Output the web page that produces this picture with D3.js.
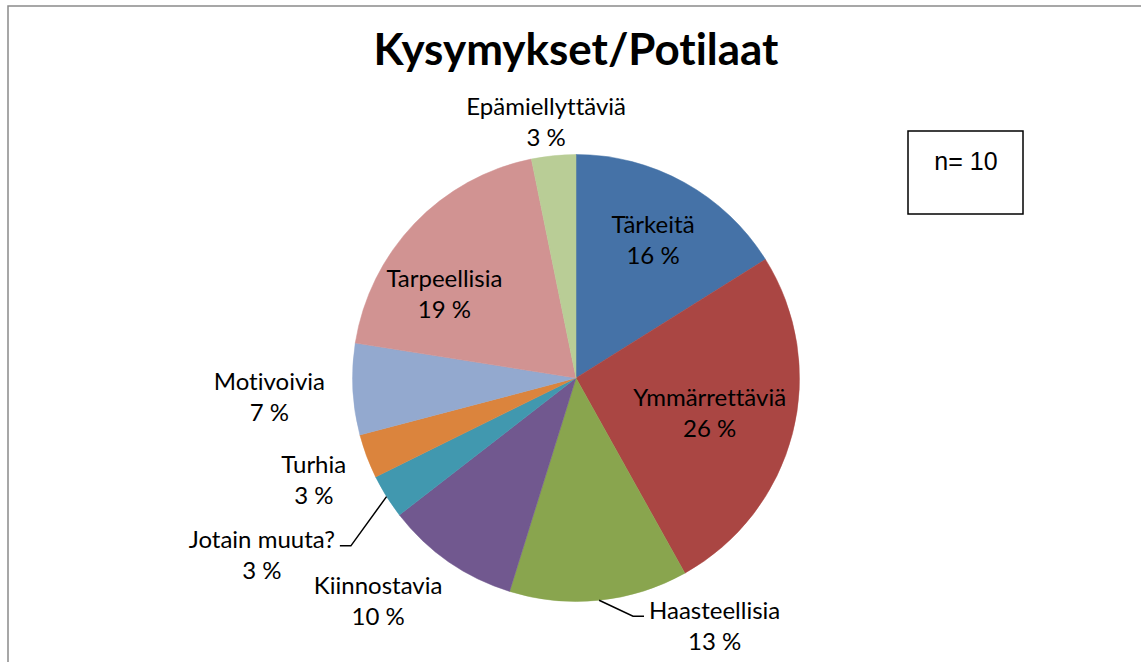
<!DOCTYPE html>
<html>
<head>
<meta charset="utf-8">
<script src="https://cdn.jsdelivr.net/npm/d3@7"></script>
<style>
  body { margin: 0; background: #fff; }
  svg { display: block; }
  text { font-variant-ligatures: none; }
</style>
</head>
<body>
<svg id="chart" width="1141" height="662"></svg>
<script>
// data: share of answers per category, in percent
const categories = ["Tärkeitä", "Ymmärrettäviä", "Haasteellisia", "Kiinnostavia",
                    "Jotain muuta?", "Turhia", "Motivoivia", "Tarpeellisia", "Epämiellyttäviä"];
const shares = [16.1, 25.8, 12.9, 9.7, 3.2, 3.2, 6.6, 19.3, 3.2];
const colors = ["#4572A7", "#AA4643", "#89A54E", "#71588F", "#4198AF",
                "#DB843D", "#93A9CF", "#D19392", "#B9CD96"];
const titleText = "Kysymykset/Potilaat";
const noteText = "n= 10";

// label placement (distance along the slice middle + small nudge), like Excel "best fit"
const labelPlace = {
    "Tärkeitä":        { r: 159, dx: 0,   dy: 0 },
    "Ymmärrettäviä":   { r: 138, dx: 0,   dy: 0 },
    "Haasteellisia":   { r: 248, dx: 113, dy: 0, leader: true },
    "Kiinnostavia":    { r: 270, dx: -44, dy: 0 },
    "Jotain muuta?":   { r: 340, dx: -26, dy: -4, leader: true },
    "Turhia":          { r: 280, dx: 0,   dy: 3 },
    "Motivoivia":      { r: 307, dx: 0,   dy: 3 },
    "Tarpeellisia":    { r: 160, dx: -16, dy: 26 },
    "Epämiellyttäviä": { r: 258, dx: -4,  dy: 0 }
};

const svg = d3.select("#chart");
const cx = 576, cy = 378, radius = 223.5;
const labelFont = "Lato, 'Open Sans', sans-serif";
const lineGap = 31;

// chart area border (only left/top visible in the crop)
svg.append("rect")
   .attr("x", 8).attr("y", 6)
   .attr("width", 1300).attr("height", 800)
   .attr("fill", "none")
   .attr("stroke", "#8a8a8a")
   .attr("stroke-width", 1.5);

// title
const title = svg.append("text")
   .attr("x", cx).attr("y", 65)
   .attr("text-anchor", "middle")
   .style("font-family", labelFont)
   .style("font-weight", "bold")
   .style("font-size", "46px")
   .style("fill", "#000")
   .text(titleText);
// squeeze to the width of the original Calibri title
const tLen = title.node().getComputedTextLength();
title.style("font-size", (46 * 405 / tLen) + "px");

const total = d3.sum(shares);
const data = categories.map((c, i) => ({ name: c, value: shares[i], color: colors[i] }));

const pie = d3.pie().value(d => d.value).sort(null);
const arc = d3.arc().innerRadius(0).outerRadius(radius);
const arcs = pie(data);

const g = svg.append("g").attr("transform", `translate(${cx},${cy})`);

g.selectAll("path.slice")
  .data(arcs)
  .join("path")
  .attr("class", "slice")
  .attr("d", arc)
  .attr("fill", d => d.data.color)
  .attr("stroke", d => d.data.color)
  .attr("stroke-width", 0.5);

// labels
arcs.forEach(d => {
    const p = labelPlace[d.data.name];
    const a = (d.startAngle + d.endAngle) / 2;
    const x = p.r * Math.sin(a) + p.dx;
    const y = -p.r * Math.cos(a) + p.dy;
    const pct = Math.round(d.data.value / total * 100) + " %";

    const lg = g.append("g").attr("class", "label");
    const t1 = lg.append("text")
       .attr("x", x).attr("y", y - lineGap / 2)
       .attr("text-anchor", "middle")
       .attr("dominant-baseline", "central")
       .style("font-family", labelFont)
       .style("font-size", "24px")
       .style("fill", "#000")
       .text(d.data.name);
    lg.append("text")
       .attr("x", x).attr("y", y + lineGap / 2)
       .attr("text-anchor", "middle")
       .attr("dominant-baseline", "central")
       .style("font-family", labelFont)
       .style("font-size", "24px")
       .style("fill", "#000")
       .text(pct);

    if (p.leader) {
        const bb = t1.node().getBBox();
        const sx = radius * Math.sin(a), sy = -radius * Math.cos(a);
        const ly = y - lineGap / 2 + 7;
        const right = x > sx;
        const ex = right ? bb.x - 5 : bb.x + bb.width + 5;
        const elbow = right ? ex - 11 : ex + 11;
        g.append("path")
         .attr("d", d3.line()([[sx, sy], [elbow, ly], [ex, ly]]))
         .attr("fill", "none")
         .attr("stroke", "#000")
         .attr("stroke-width", 1.5);
    }
});

// n box
svg.append("rect")
   .attr("x", 908).attr("y", 131)
   .attr("width", 115).attr("height", 83)
   .attr("fill", "#fff")
   .attr("stroke", "#000")
   .attr("stroke-width", 1.5);
svg.append("text")
   .attr("x", 966).attr("y", 170)
   .attr("text-anchor", "middle")
   .style("font-family", "'Liberation Sans', Arial, sans-serif")
   .style("font-size", "25px")
   .style("fill", "#000")
   .text(noteText);
</script>
</body>
</html>
